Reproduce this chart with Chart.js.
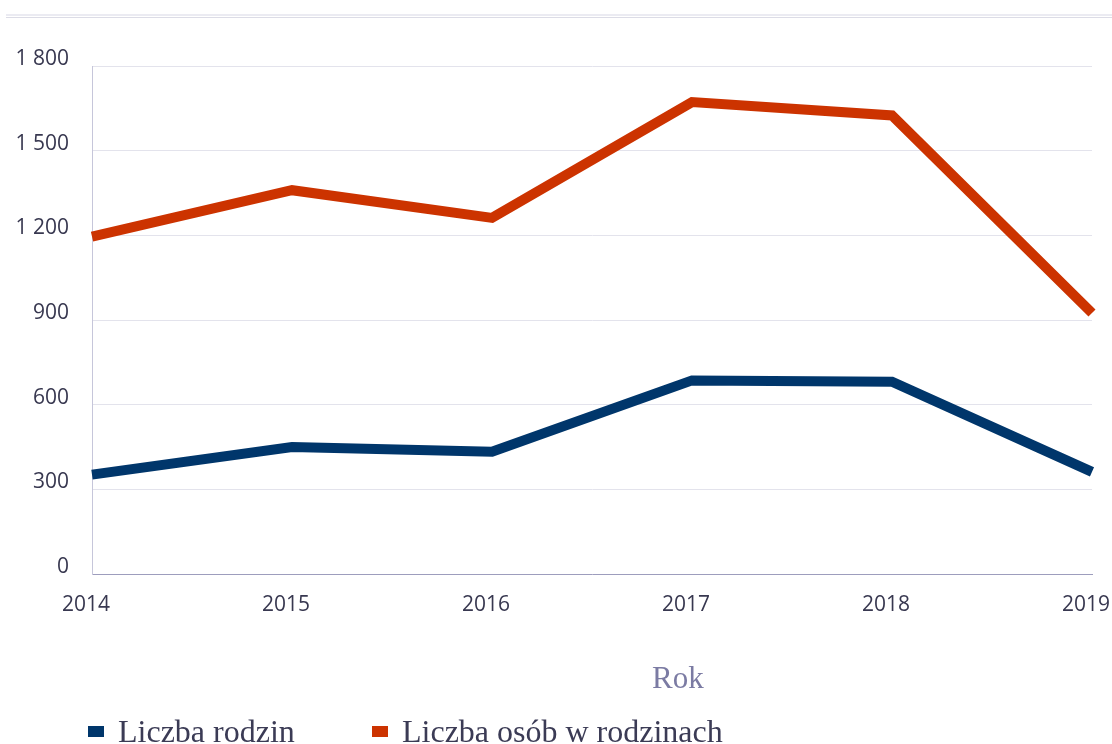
<!DOCTYPE html>
<html>
<head>
<meta charset="utf-8">
<script src="https://cdn.jsdelivr.net/npm/chart.js@4.4.0/dist/chart.umd.min.js"></script>
<style>
	html, body { margin: 0; padding: 0; background: #ffffff; }
	#wrap { width: 1112px; height: 744px; position: relative; }
</style>
</head>
<body>
<div id="wrap"><canvas id="myChart" width="1112" height="744"></canvas></div>
<script>
var _years = ['2014', '2015', '2016', '2017', '2018', '2019'];
var _rodziny = [352, 450, 433, 686, 681, 362];
var _osoby = [1195, 1360, 1262, 1672, 1625, 925];
var _seriesNames = ['Liczba rodzin', 'Liczba osób w rodzinach'];
var _seriesColors = ['#00366b', '#cc3300'];
var _xTitle = 'Rok';

// ramka u gory, tytul osi i legenda rysowane recznie
var extrasPlugin = {
	id: 'extras',
	afterDraw: function(chart) {
		var ctx = chart.ctx;
		ctx.save();
		ctx.fillStyle = '#ebebf2';
		ctx.fillRect(6, 14, 1106, 2);
		ctx.fillStyle = '#dcdce6';
		ctx.fillRect(6, 17, 1106, 1);

		ctx.font = '31px "Liberation Serif", "Times New Roman", serif';
		ctx.textBaseline = 'alphabetic';
		ctx.textAlign = 'left';
		ctx.fillStyle = '#7b7ba3';
		ctx.fillText(_xTitle, 652, 688);

		var items = [
			{ box: 88, text: 118 },
			{ box: 372, text: 402 }
		];
		ctx.font = '32px "Liberation Serif", "Times New Roman", serif';
		items.forEach(function(it, i) {
			ctx.fillStyle = _seriesColors[i];
			ctx.fillRect(it.box, 726, 16, 11);
			ctx.fillStyle = '#3b3b55';
			ctx.fillText(_seriesNames[i], it.text, 742);
		});
		ctx.restore();
	}
};

var _config = {
	type: 'line',
	data: {
		labels: _years,
		datasets: [
			{
				label: _seriesNames[0],
				data: _rodziny,
				borderColor: _seriesColors[0],
				backgroundColor: _seriesColors[0],
				borderWidth: 10,
				pointRadius: 0,
				tension: 0,
				fill: false
			},
			{
				label: _seriesNames[1],
				data: _osoby,
				borderColor: _seriesColors[1],
				backgroundColor: _seriesColors[1],
				borderWidth: 10,
				pointRadius: 0,
				tension: 0,
				fill: false
			}
		]
	},
	options: {
		responsive: false,
		animation: false,
		layout: {
			padding: { left: 0, right: 20, top: 66, bottom: 130 }
		},
		plugins: {
			legend: { display: false },
			tooltip: { enabled: false }
		},
		scales: {
			x: {
				offset: false,
				grid: { display: false, drawTicks: false },
				border: { display: true, color: '#9d9dbd', width: 1 },
				ticks: {
					color: '#383850',
					font: { family: '"Open Sans", sans-serif', size: 21 },
					padding: 18,
					labelOffset: -6,
					maxRotation: 0,
					autoSkip: false
				},
				afterFit: function(scale) {
					scale.height = 40;
					scale.paddingLeft = 0;
					scale.paddingRight = 0;
				}
			},
			y: {
				min: 0,
				max: 1800,
				grid: { color: '#e3e3ec', lineWidth: 1, drawTicks: false },
				border: { display: true, color: '#c6c6da', width: 1 },
				ticks: {
					stepSize: 300,
					color: '#383850',
					font: { family: '"Open Sans", sans-serif', size: 21 },
					padding: 23,
					labelOffset: -7,
					callback: function(v) {
						return String(v).replace(/\B(?=(\d{3})+(?!\d))/g, ' ');
					}
				},
				afterFit: function(scale) {
					scale.width = 92;
					scale.paddingTop = 0;
					scale.paddingBottom = 0;
				}
			}
		}
	},
	plugins: [extrasPlugin]
};

var myChart = new Chart(document.getElementById('myChart'), _config);
</script>
</body>
</html>
